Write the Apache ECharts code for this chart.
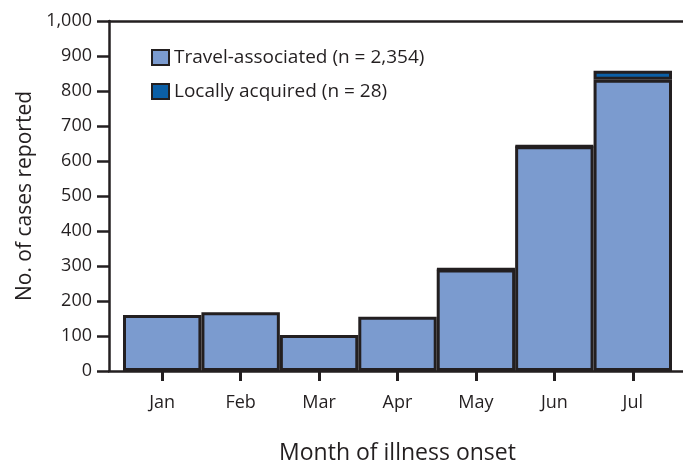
<!DOCTYPE html>
<html>
<head>
<meta charset="utf-8">
<script src="https://cdn.jsdelivr.net/npm/echarts@6/dist/echarts.min.js"></script>
<style>
  html, body { margin: 0; padding: 0; background: #fff; }
  #chart { width: 683px; height: 461px; }
</style>
</head>
<body>
<div id="chart"></div>
<script>
var months = ['Jan', 'Feb', 'Mar', 'Apr', 'May', 'Jun', 'Jul'];
var travelCases = [160, 168, 103, 155, 290, 642, 832];
var localCases = [null, null, null, null, 1, 1, 26];
var travelName = 'Travel-associated (n = 2,354)';
var localName = 'Locally acquired (n = 28)';

var FONT = 'Open Sans';
var INK = '#231f20';

var chart = echarts.init(document.getElementById('chart'));

var option = {
    animation: false,
    textStyle: { fontFamily: FONT, color: INK },
    legend: {
        orient: 'vertical',
        left: 146,
        top: 43,
        icon: 'rect',
        itemWidth: 17,
        itemHeight: 15,
        itemGap: 15,
        textStyle: { fontFamily: FONT, fontSize: 19, color: INK },
        itemStyle: { borderWidth: 2, borderColor: INK },
        data: [travelName, localName]
    },
    grid: [
        // bars
        { left: 123, right: 11, top: 21, bottom: 90, outerBoundsMode: 'none' },
        // frame + y axis
        { left: 109, right: 0, top: 21, bottom: 90, outerBoundsMode: 'none' }
    ],
    xAxis: [{
        type: 'category',
        gridIndex: 0,
        data: months,
        axisLine: { show: false },
        axisTick: { show: true, alignWithLabel: true, length: 10, inside: false,
                    lineStyle: { color: INK, width: 3 } },
        axisLabel: { fontFamily: FONT, fontSize: 18, color: INK, margin: 23 },
        name: 'Month of illness onset',
        nameLocation: 'middle',
        nameGap: 71,
        nameTextStyle: { fontFamily: FONT, fontSize: 23, color: INK }
    }, {
        type: 'value',
        gridIndex: 1,
        position: 'top',
        min: 0, max: 1,
        axisLine: { show: true, onZero: false, lineStyle: { color: INK, width: 2.5 } },
        axisTick: { show: false },
        axisLabel: { show: false },
        splitLine: { show: false }
    }, {
        type: 'value',
        gridIndex: 1,
        position: 'bottom',
        min: 0, max: 1,
        axisLine: { show: true, onZero: false, lineStyle: { color: INK, width: 2.5 } },
        axisTick: { show: false },
        axisLabel: { show: false },
        splitLine: { show: false }
    }],
    yAxis: [{
        type: 'value',
        gridIndex: 0,
        min: 0, max: 1000, interval: 100,
        show: false
    }, {
        type: 'value',
        gridIndex: 1,
        min: 0, max: 1000, interval: 100,
        axisLine: { show: true, lineStyle: { color: INK, width: 2.5 } },
        axisTick: { show: true, length: 12, lineStyle: { color: INK, width: 2.5 } },
        axisLabel: {
            fontFamily: FONT, fontSize: 18, color: INK, margin: 17,
            formatter: function (v) { return v.toLocaleString('en-US'); }
        },
        splitLine: { show: false },
        name: 'No. of cases reported',
        nameLocation: 'middle',
        nameGap: 66,
        nameTextStyle: { fontFamily: FONT, fontSize: 21, color: INK }
    }],
    series: [{
        name: travelName,
        type: 'bar',
        stack: 'cases',
        xAxisIndex: 0,
        yAxisIndex: 0,
        barCategoryGap: 0,
        itemStyle: { color: '#7b9bcf', borderColor: INK, borderWidth: 3 },
        data: travelCases
    }, {
        name: localName,
        type: 'bar',
        stack: 'cases',
        xAxisIndex: 0,
        yAxisIndex: 0,
        barCategoryGap: 0,
        itemStyle: { color: '#0b5fa6', borderColor: INK, borderWidth: 3 },
        data: localCases
    }]
};

chart.setOption(option);
</script>
</body>
</html>
